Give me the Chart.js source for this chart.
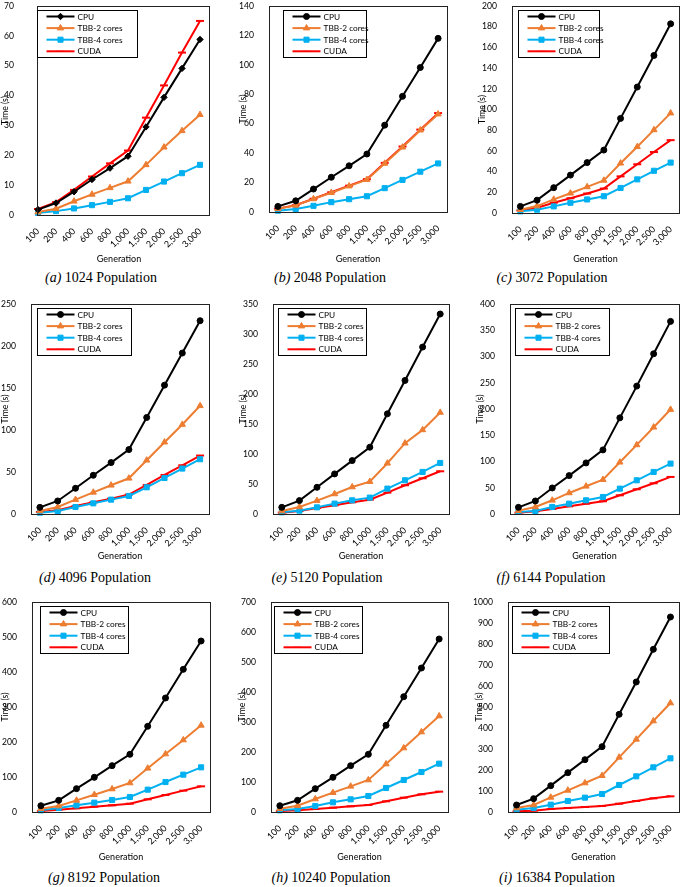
<!DOCTYPE html>
<html>
<head>
<meta charset="utf-8">
<script src="https://cdn.jsdelivr.net/npm/chart.js@4.4.0/dist/chart.umd.min.js"></script>
<style>
  html, body { margin: 0; padding: 0; background: #fff; }
  #page { position: relative; width: 685px; height: 887px; overflow: hidden; }
  .panel { position: absolute; }
  .cap { position: absolute; font-family: "Liberation Serif", serif; font-size: 14px; color: #000;
         white-space: nowrap; transform: translateX(-50%); line-height: 16px; }
</style>
</head>
<body>
<div id="page"></div>
<script>
// x categories
const generations = ['100', '200', '400', '600', '800', '1,000', '1,500', '2,000', '2,500', '3,000'];
const seriesNames = ['CPU', 'TBB-2 cores', 'TBB-4 cores', 'CUDA'];
const panelLetters = ['a', 'b', 'c', 'd', 'e', 'f', 'g', 'h', 'i'];
const populations = ['1024', '2048', '3072', '4096', '5120', '6144', '8192', '10240', '16384'];
const yMax = [70, 140, 200, 250, 350, 400, 600, 700, 1000];
const yStep = [10, 20, 20, 50, 50, 50, 100, 100, 100];

// time (s) per panel, one row per population
const cpuTimes = [
    [1.8, 4.0, 7.8, 11.9, 15.7, 19.7, 29.5, 39.4, 49.1, 58.8],
    [3.8, 7.6, 15.6, 23.6, 31.4, 39.4, 59.0, 78.6, 98.2, 118.0],
    [6.4, 12.4, 24.5, 36.6, 48.7, 60.8, 91.4, 121.7, 152.2, 182.8],
    [7.9, 15.5, 30.6, 46.1, 61.2, 76.7, 114.9, 153.4, 191.6, 230.1],
    [11.1, 22.3, 44.5, 66.8, 89.0, 111.3, 167.0, 222.6, 278.2, 333.3],
    [12.7, 24.8, 49.6, 73.1, 97.3, 122.1, 183.1, 243.6, 305.2, 366.9],
    [18.0, 33.3, 66.7, 99.0, 132.4, 164.8, 244.8, 325.7, 407.6, 488.6],
    [21.0, 38.9, 77.8, 115.6, 154.4, 192.2, 288.9, 384.4, 480.0, 576.7],
    [33.3, 63.5, 125.4, 187.3, 249.2, 311.1, 465.1, 619.0, 774.6, 928.6]
];
const tbb2Times = [
    [1.0, 2.1, 4.6, 6.9, 9.1, 11.3, 16.8, 22.7, 28.2, 33.6],
    [2.2, 4.5, 8.9, 13.1, 17.6, 22.0, 33.0, 44.0, 55.6, 66.5],
    [3.2, 6.7, 13.1, 19.1, 25.2, 31.5, 48.1, 64.0, 80.3, 96.5],
    [3.6, 8.3, 17.1, 25.8, 34.2, 42.5, 64.0, 85.5, 106.5, 128.8],
    [5.0, 11.7, 22.3, 33.4, 45.0, 54.0, 84.6, 118.0, 140.2, 169.2],
    [6.4, 13.4, 26.1, 40.1, 52.8, 65.5, 98.6, 131.6, 165.3, 199.0],
    [9.5, 17.1, 33.3, 49.5, 65.7, 82.9, 124.8, 165.7, 205.7, 247.6],
    [11.1, 21.1, 43.3, 64.4, 85.6, 106.7, 160.0, 213.3, 266.7, 320.0],
    [19.0, 33.3, 69.8, 103.2, 138.1, 173.0, 260.3, 346.0, 433.3, 519.0]
];
const tbb4Times = [
    [0.7, 1.3, 2.2, 3.3, 4.4, 5.6, 8.4, 11.2, 14.0, 16.8],
    [0.9, 2.0, 4.2, 6.7, 8.7, 10.7, 16.2, 21.8, 27.4, 33.0],
    [1.6, 3.2, 6.4, 9.9, 13.1, 16.2, 24.2, 32.5, 40.8, 48.7],
    [1.6, 3.6, 8.3, 12.7, 17.1, 21.5, 31.8, 42.9, 54.1, 65.2],
    [2.8, 5.6, 11.1, 17.3, 22.8, 27.3, 42.3, 56.2, 70.1, 85.1],
    [3.8, 5.7, 13.4, 19.7, 26.1, 32.4, 48.3, 64.2, 80.1, 96.0],
    [4.8, 11.4, 19.0, 26.7, 34.3, 42.9, 63.8, 85.7, 106.7, 127.6],
    [5.6, 10.0, 20.0, 32.2, 42.2, 53.3, 80.0, 106.7, 133.3, 161.1],
    [11.1, 19.0, 34.9, 52.4, 68.3, 85.7, 128.6, 169.8, 212.7, 255.6]
];
const cudaTimes = [
    [2.0, 4.3, 8.4, 12.9, 17.3, 21.6, 32.6, 43.4, 54.4, 65.0],
    [2.3, 4.6, 9.0, 13.4, 17.9, 22.3, 33.4, 44.5, 56.0, 67.2],
    [2.5, 5.1, 9.9, 14.3, 18.8, 23.6, 35.4, 47.1, 58.9, 70.4],
    [2.4, 4.4, 9.5, 13.9, 18.3, 23.1, 34.6, 46.5, 58.0, 69.6],
    [2.2, 5.0, 10.0, 14.5, 19.5, 23.9, 35.6, 47.9, 59.5, 71.2],
    [2.5, 5.1, 9.5, 14.6, 19.7, 24.2, 35.6, 47.1, 58.5, 70.6],
    [2.9, 6.7, 10.5, 15.2, 19.0, 23.8, 36.2, 48.6, 61.0, 73.3],
    [3.3, 5.6, 10.0, 14.4, 18.9, 23.3, 35.6, 47.8, 58.9, 67.8],
    [3.2, 6.3, 14.3, 19.0, 23.8, 28.6, 39.7, 52.4, 65.0, 74.6]
];

const colors = ['#000000', '#ED7D31', '#00B0F0', '#FF0000'];
const markers = ['circle', 'triangle', 'rect', 'line'];
const markerSize = [3, 3.6, 3.6, 4];
const FONT = 'Lato';

// canvas box + plot geometry for each panel (page pixels)
const layout = [
    {x: 0,   y: 0,   w: 228, h: 264, padL: 0,    yw: 38,   xh: 49, padT: 3,  padR: 28, tickPad: 16, lgDx: 0,  lgW: 100, frL: 1, frR: 9, offset: false},
    {x: 228, y: 0,   w: 229, h: 264, padL: 9.6,  yw: 31.4, xh: 52, padT: 3,  padR: 10, tickPad: 7,  lgDx: 14, lgW: 83},
    {x: 457, y: 0,   w: 228, h: 264, padL: 19.6, yw: 35.4, xh: 51, padT: 3,  padR: 1,  tickPad: 7,  lgDx: 6,  lgW: 81},
    {x: 0,   y: 290, w: 228, h: 271, padL: 0,    yw: 31,   xh: 47, padT: 14, padR: 19, tickPad: 7,  lgDx: 6,  lgW: 94},
    {x: 228, y: 290, w: 229, h: 271, padL: 9.6,  yw: 35.4, xh: 47, padT: 14, padR: 8,  tickPad: 7,  lgDx: 5,  lgW: 88},
    {x: 457, y: 290, w: 228, h: 271, padL: 17.6, yw: 35.4, xh: 47, padT: 14, padR: 1,  tickPad: 7,  lgDx: 5,  lgW: 94},
    {x: 0,   y: 590, w: 228, h: 272, padL: 0,    yw: 32,   xh: 50, padT: 12, padR: 18, tickPad: 7,  lgDx: 8,  lgW: 88},
    {x: 228, y: 590, w: 229, h: 272, padL: 8.6,  yw: 34.4, xh: 50, padT: 12, padR: 9,  tickPad: 7,  lgDx: 3,  lgW: 88},
    {x: 457, y: 590, w: 228, h: 272, padL: 16.6, yw: 34.4, xh: 50, padT: 12, padR: 1,  tickPad: 7,  lgDx: 4,  lgW: 97}
];
const captionPos = [[101, 278], [330, 278], [552, 278], [95, 578], [327, 578], [551, 578], [104, 878], [331, 878], [557, 878]];

// frame around the plot area plus the boxed legend inside it
const framePlugin = {
    id: 'frameLegend',
    afterDraw(chart, args, opts) {
        const ctx = chart.ctx;
        const a = chart.chartArea;
        const L = opts.lay;
        ctx.save();
        ctx.strokeStyle = '#222';
        ctx.lineWidth = 1;
        const fl = a.left - (L.frL || 0), fr = a.right + (L.frR || 0);
        ctx.strokeRect(Math.round(fl) + 0.5, Math.round(a.top) + 0.5, Math.round(fr - fl), Math.round(a.bottom - a.top));

        const bx = Math.round(fl + L.lgDx) + 0.5, by = Math.round(a.top + 4) + 0.5;
        const rowH = 11.6;
        ctx.fillStyle = '#fff';
        ctx.fillRect(bx, by, L.lgW, 47);
        ctx.strokeStyle = '#000';
        ctx.strokeRect(bx, by, L.lgW, 47);
        chart.data.datasets.forEach((ds, i) => {
            const yy = by + 6 + i * rowH;
            const x0 = bx + 9, x1 = bx + 37;
            ctx.strokeStyle = ds.borderColor;
            ctx.lineWidth = 2;
            ctx.beginPath();
            ctx.moveTo(x0, yy);
            ctx.lineTo(x1, yy);
            ctx.stroke();
            ctx.fillStyle = ds.borderColor;
            ctx.lineWidth = 1;
            Chart.helpers.drawPoint(ctx, {pointStyle: ds.pointStyle, radius: ds.pointRadius, rotation: 0, borderWidth: ds.pointStyle === 'line' ? 2 : 1}, (x0 + x1) / 2, yy);
            ctx.fillStyle = '#000';
            ctx.font = '8.3px ' + FONT;
            ctx.textBaseline = 'middle';
            ctx.textAlign = 'left';
            ctx.fillText(ds.label, bx + 40, yy + 0.5);
        });
        ctx.restore();
    }
};

const page = document.getElementById('page');

layout.forEach((L, p) => {
    const holder = document.createElement('div');
    holder.className = 'panel';
    holder.style.left = L.x + 'px';
    holder.style.top = L.y + 'px';
    holder.style.width = L.w + 'px';
    holder.style.height = L.h + 'px';
    const canvas = document.createElement('canvas');
    canvas.width = L.w;
    canvas.height = L.h;
    canvas.style.width = L.w + 'px';
    canvas.style.height = L.h + 'px';
    holder.appendChild(canvas);
    page.appendChild(holder);

    const cap = document.createElement('div');
    cap.className = 'cap';
    cap.style.left = captionPos[p][0] + 'px';
    cap.style.top = (captionPos[p][1] - 8) + 'px';
    cap.innerHTML = '<i>(' + panelLetters[p] + ')</i> ' + populations[p] + ' Population';
    page.appendChild(cap);

    const seriesData = [cpuTimes[p], tbb2Times[p], tbb4Times[p], cudaTimes[p]];
    const datasets = seriesNames.map((name, i) => ({
        label: name,
        data: seriesData[i],
        borderColor: colors[i],
        backgroundColor: colors[i],
        pointBackgroundColor: colors[i],
        pointBorderColor: colors[i],
        borderWidth: 2,
        pointStyle: (i === 0 && p === 0) ? 'rectRot' : markers[i],
        pointRadius: (i === 0 && p === 0) ? 3.2 : markerSize[i],
        pointBorderWidth: i === 3 ? 2 : 1,
        tension: 0,
        clip: false,
        order: i
    }));

    new Chart(canvas.getContext('2d'), {
        type: 'line',
        data: {labels: generations, datasets: datasets},
        options: {
            responsive: false,
            animation: false,
            layout: {padding: {left: L.padL, top: L.padT, right: L.padR, bottom: 0}},
            plugins: {
                legend: {display: false},
                tooltip: {enabled: false},
                frameLegend: {lay: L}
            },
            scales: {
                x: {
                    offset: L.offset !== false,
                    grid: {display: false},
                    border: {display: false},
                    ticks: {
                        autoSkip: false, minRotation: 45, maxRotation: 45, padding: 3,
                        color: '#000', font: {family: FONT, size: 9}
                    },
                    title: {display: true, text: 'Generation', padding: 0, color: '#000', font: {family: FONT, size: 9}},
                    afterFit(s) {
                        s.height = L.xh;
                        s.paddingLeft = 0; s.paddingRight = 0; s.paddingTop = 0; s.paddingBottom = 0;
                    }
                },
                y: {
                    min: 0,
                    max: yMax[p],
                    grid: {display: false},
                    border: {display: false},
                    ticks: {
                        stepSize: yStep[p], padding: L.tickPad, color: '#000', font: {family: FONT, size: 8.6},
                        callback: (v) => String(v)
                    },
                    title: {display: true, text: 'Time (s)', padding: 0, color: '#000', font: {family: FONT, size: 8.6}},
                    afterFit(s) {
                        s.width = L.yw;
                        s.paddingLeft = 0; s.paddingRight = 0; s.paddingTop = 0; s.paddingBottom = 0;
                    }
                }
            }
        },
        plugins: [framePlugin]
    });
});
</script>
</body>
</html>
